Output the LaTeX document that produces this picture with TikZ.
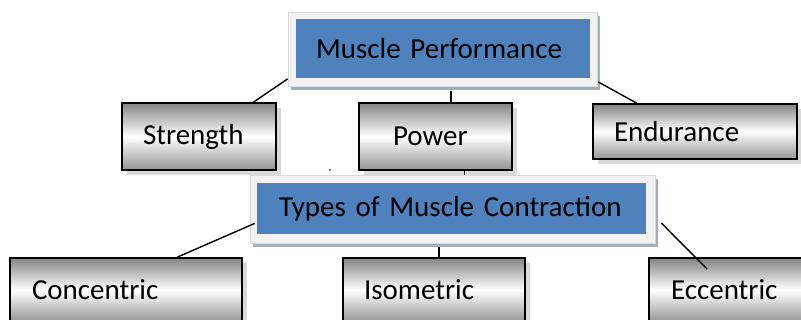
\documentclass[tikz,border=0pt]{standalone}
\usepackage{fontspec}
\setmainfont{Carlito}
\usetikzlibrary{calc,shadows}

\definecolor{panelblue}{HTML}{4F81BD}
\definecolor{framegray}{HTML}{F2F2F2}
\definecolor{frameedge}{HTML}{DADADA}
\definecolor{frameshadow}{HTML}{A3ADBD}
\definecolor{boxshadow}{HTML}{D9D9D9}
\definecolor{boxtop}{HTML}{858585}
\definecolor{boxbot}{HTML}{959595}

\tikzset{
  labelfont/.style={font=\fontsize{29}{34}\selectfont},
  % gray gradient boxes with a flat drop shadow
  graybox/.style={rectangle, draw=black, line width=1.8pt,
    top color=boxtop, bottom color=boxbot, middle color=white,
    inner ysep=0pt, inner xsep=21pt, align=left, labelfont,
    general shadow={fill=boxshadow, shadow xshift=5pt, shadow yshift=-5pt}},
  % light frame behind the blue heading panels
  headframe/.style={rectangle, fill=framegray, draw=frameedge, line width=0.6pt,
    inner sep=0pt,
    general shadow={fill=frameshadow, shadow xshift=3pt, shadow yshift=-4pt}},
  headpanel/.style={rectangle, fill=panelblue, inner ysep=0pt, inner xsep=20pt,
    align=left, labelfont},
  link/.style={draw=black, line width=1.4pt},
}

\begin{document}
\begin{tikzpicture}[x=1pt, y=-1pt]
  \useasboundingbox (0,0) rectangle (801,320);
  \clip (0,0) rectangle (801,320);

  % heading: muscle performance
  \node[headframe, minimum width=309pt, minimum height=74pt] (topf) at (442.5,49) {};
  \node[headpanel, text width=254pt, minimum height=59pt] (top) at (443,48.5) {Muscle Performance};

  % first row of components
  \node[graybox, text width=112pt, minimum height=67pt] (strength) at (199,136.5) {Strength};
  \node[graybox, inner xsep=34pt, text width=85pt, minimum height=67pt] (power) at (435.5,136.5) {Power};
  \node[graybox, text width=162pt, minimum height=55pt] (endurance) at (695,131.5) {Endurance};

  % heading: types of contraction
  \node[headframe, minimum width=405pt, minimum height=68pt] (typesf) at (452.5,209) {};
  \node[headpanel, inner xsep=22pt, text width=345pt, minimum height=51pt] (types) at (451.5,208.5) {Types of Muscle Contraction};

  % second row of components
  \node[graybox, inner xsep=22pt, text width=188pt, minimum height=64pt] (concentric) at (126,290) {Concentric};
  \node[graybox, text width=140pt, minimum height=64pt] (isometric) at (434,290) {Isometric};
  \node[graybox, inner xsep=22pt, text width=113pt, minimum height=64pt] (eccentric) at (727.5,290) {Eccentric};

  % connectors from the first heading
  \draw[link] ($(strength.north west)!0.85!(strength.north east)$) -- ($(topf.south west)!0.1!(topf.north west)$);
  \draw[link] ($(topf.east)+(1,33)$) -- ($(endurance.north west)!0.216!(endurance.north east)$);
  \coordinate (pm) at ($(power.north west)!0.6!(power.north east)$);
  \draw[link] (pm) -- ($(pm |- topf.south)+(0,5)$);

  % connector from power to the second heading
  \coordinate (pt) at ($(power.south west)!0.686!(power.south east)$);
  \draw[link] (pt) -- (pt |- typesf.north);

  % connectors from the second heading
  \draw[link] ($(concentric.north west)!0.72!(concentric.north east)$) -- ($(typesf.south west)!0.29!(typesf.north west)+(5,0)$);
  \coordinate (ein) at ($(eccentric.north west)+(59,12)$);
  \draw[link] ($(typesf.east)+(6,14)$) -- (ein);
  \coordinate (im) at ($(isometric.north west)!0.527!(isometric.north east)$);
  \draw[link] (im) -- ($(im |- typesf.south)+(0,4)$);

  % small stray mark
  \fill (330,170) circle (0.9);
\end{tikzpicture}
\end{document}
